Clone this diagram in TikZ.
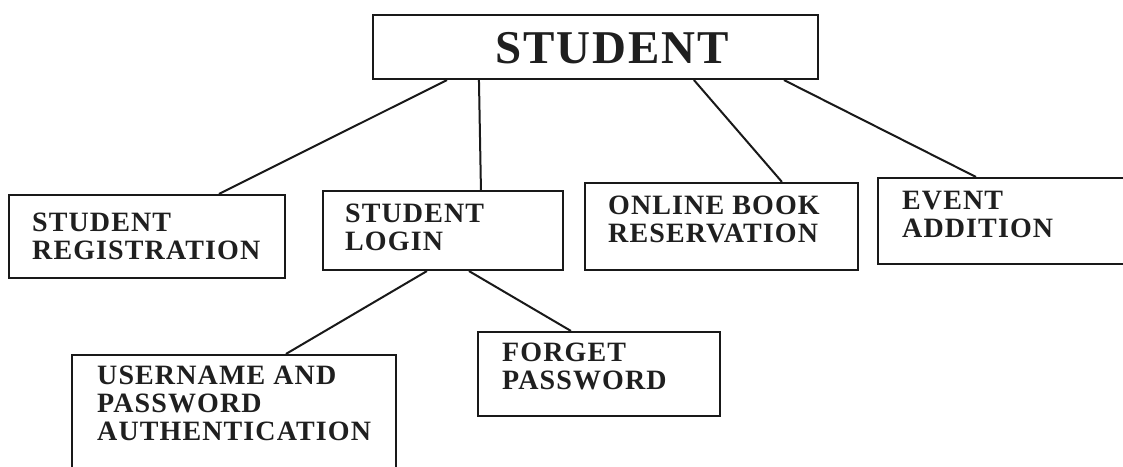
\documentclass[tikz,border=0pt]{standalone}
\usepackage{fontspec}
\setmainfont{Liberation Serif}
\newfontfamily\spacedserif[LetterSpace=4]{Liberation Serif}
\usetikzlibrary{calc}
\begin{document}
\begin{tikzpicture}[x=1pt,y=-1pt,
  box/.style={draw=black!90,line width=2.1pt,inner sep=0pt,rectangle},
  lbl/.style={inner sep=0pt,anchor=north west,align=left,font=\spacedserif\fontsize{28}{28}\selectfont\bfseries,text=black!88},
  conn/.style={draw=black!90,line width=2pt}]
\useasboundingbox[fill=white] (0,0) rectangle (1123,466);
% boxes
\node[box,minimum width=445pt,minimum height=64pt] (top) at (595.5,47) {};
\node[box,minimum width=276pt,minimum height=83pt] (reg) at (147,236.5) {};
\node[box,minimum width=240pt,minimum height=79pt] (login) at (443,230.5) {};
\node[box,minimum width=273pt,minimum height=87pt] (res) at (721.5,226.5) {};
\node[box,minimum width=248pt,minimum height=86pt] (event) at (1002,221) {};
\node[box,minimum width=324pt,minimum height=120pt] (user) at (234,415) {};
\node[box,minimum width=242pt,minimum height=84pt] (forget) at (599,374) {};
% labels
\node[lbl,font=\spacedserif\fontsize{47}{47}\selectfont\bfseries] (topt) at (495,32) {STUDENT};
\node[lbl] (regt) at (32,213) {STUDENT\\REGISTRATION};
\node[lbl] (logint) at (345,204) {STUDENT\\LOGIN};
\node[lbl] (rest) at (608,196) {ONLINE BOOK\\RESERVATION};
\node[lbl] (eventt) at (902,191) {EVENT\\ADDITION};
\node[lbl] (usert) at (97,366) {USERNAME AND\\PASSWORD\\AUTHENTICATION};
\node[lbl] (forgett) at (502,343) {FORGET\\PASSWORD};
% connectors
\draw[conn] ($(top.south west)+(75,0)$) -- ($(reg.north west)+(211,0)$);
\draw[conn] ($(top.south west)+(107,0)$) -- ($(login.north west)+(159,0)$);
\draw[conn] ($(top.south west)+(322,0)$) -- ($(res.north west)+(198,0)$);
\draw[conn] ($(top.south west)+(412,0)$) -- ($(event.north west)+(99,0)$);
\draw[conn] ($(login.south west)+(105,0)$) -- ($(user.north west)+(215,0)$);
\draw[conn] ($(login.south west)+(147,0)$) -- ($(forget.north west)+(94,0)$);
\end{tikzpicture}
\end{document}
